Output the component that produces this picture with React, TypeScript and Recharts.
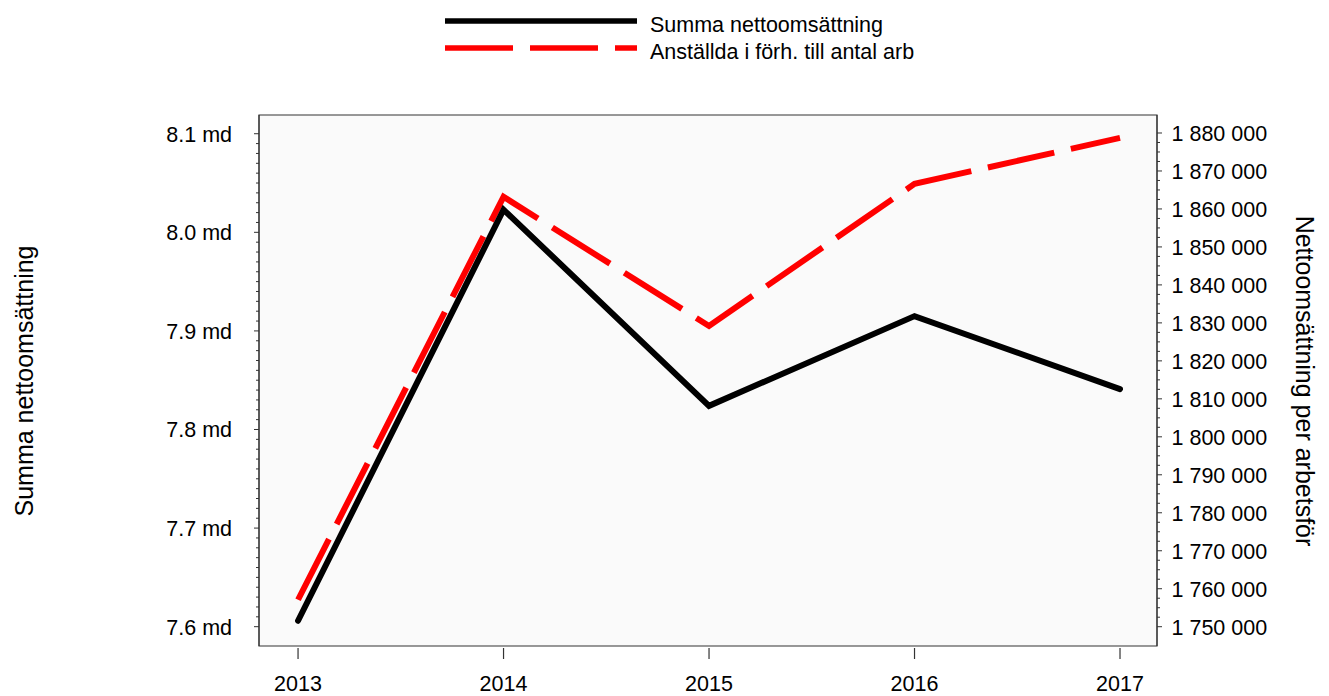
import { LineChart, Line, XAxis, YAxis, ReferenceArea } from 'recharts'

// Summa nettoomsättning (md) vs nettoomsättning per arbetsför, 2013–2017
const YEARS = [2013, 2014, 2015, 2016, 2017]
const NET_SALES_MD = [7.606, 8.023, 7.824, 7.915, 7.841]
const SALES_PER_EMPLOYEE = [1757100, 1863200, 1829200, 1866600, 1878700]

const LEFT_MAJOR = [7.6, 7.7, 7.8, 7.9, 8.0, 8.1]
const RIGHT_MAJOR = [
  1750000, 1760000, 1770000, 1780000, 1790000, 1800000, 1810000,
  1820000, 1830000, 1840000, 1850000, 1860000, 1870000, 1880000,
]
const SERIES_NAMES = ['Summa nettoomsättning', 'Anställda i förh. till antal arb']
const LEFT_TITLE = 'Summa nettoomsättning'
const RIGHT_TITLE = 'Nettoomsättning per arbetsför'

const W = 1329
const H = 696
const FONT = '"Liberation Sans", Arial, sans-serif'
const AXIS = '#333'
const X_DOMAIN = [2012.81, 2017.18]
const LEFT_DOMAIN = [7.5804, 8.119]
const RIGHT_DOMAIN = [1744921, 1884737]

// minor ticks between majors (0.01 md left, 2 500 right)
const minors = (majors: number[], parts: number, dec: number) => {
  const out: number[] = []
  for (let i = 0; i < majors.length - 1; i++) {
    const step = (majors[i + 1] - majors[i]) / parts
    for (let j = 0; j < parts; j++) out.push(Number((majors[i] + j * step).toFixed(dec)))
  }
  out.push(majors[majors.length - 1])
  return out
}
const LEFT_TICKS = minors(LEFT_MAJOR, 10, 2)
const RIGHT_TICKS = minors(RIGHT_MAJOR, 4, 0)

const rows = YEARS.map((year, i) => ({
  year,
  sales: NET_SALES_MD[i],
  perEmp: SALES_PER_EMPLOYEE[i],
}))

const spaced = (v: number) => String(Math.round(v)).replace(/\B(?=(\d{3})+(?!\d))/g, ' ')

function LeftTick({ x, y, payload }: any) {
  const major = LEFT_MAJOR.includes(payload.value)
  return (
    <g>
      <line x1={x - (major ? 5 : 3)} x2={x} y1={y} y2={y} stroke={AXIS} strokeWidth={1} />
      {major && (
        <text x={x - 27} y={y + 8} textAnchor="end" fontSize={21.5} fontFamily={FONT} fill="#000">
          {payload.value.toFixed(1)} md
        </text>
      )}
    </g>
  )
}

function RightTick({ x, y, payload }: any) {
  const major = RIGHT_MAJOR.includes(payload.value)
  return (
    <g>
      <line x1={x} x2={x + (major ? 5 : 3)} y1={y} y2={y} stroke={AXIS} strokeWidth={1} />
      {major && (
        <text x={x + 14.5} y={y + 8} textAnchor="start" fontSize={21.5} fontFamily={FONT} fill="#000">
          {spaced(payload.value)}
        </text>
      )}
    </g>
  )
}

function XTick({ x, y, payload }: any) {
  return (
    <g>
      <line x1={x} x2={x} y1={y + 2} y2={y + 13} stroke={AXIS} strokeWidth={1.2} />
      <text x={x} y={y + 44.5} textAnchor="middle" fontSize={21.5} fontFamily={FONT} fill="#000">
        {payload.value}
      </text>
    </g>
  )
}

export default function App() {
  return (
    <div style={{ position: 'relative', width: W, height: H, fontFamily: FONT }}>
      <style>{'body{margin:0}'}</style>
      <LineChart width={W} height={H} data={rows} margin={{ top: 115, right: 0, bottom: 0, left: 0 }}>
        <XAxis
          dataKey="year" type="number" domain={X_DOMAIN} ticks={YEARS} interval={0}
          allowDataOverflow axisLine={false} tickLine={false} tickSize={0} tickMargin={0}
          height={50} tick={(p: any) => <XTick {...p} />}
        />
        <YAxis
          yAxisId="left" orientation="left" width={259} domain={LEFT_DOMAIN} ticks={LEFT_TICKS}
          interval={0} allowDataOverflow tickLine={false} tickSize={0} tickMargin={0}
          axisLine={{ stroke: AXIS }} tick={(p: any) => <LeftTick {...p} />}
        />
        <YAxis
          yAxisId="right" orientation="right" width={172} domain={RIGHT_DOMAIN} ticks={RIGHT_TICKS}
          interval={0} allowDataOverflow tickLine={false} tickSize={0} tickMargin={0}
          axisLine={{ stroke: AXIS }} tick={(p: any) => <RightTick {...p} />}
        />
        <ReferenceArea
          yAxisId="left" x1={X_DOMAIN[0]} x2={X_DOMAIN[1]} y1={LEFT_DOMAIN[0]} y2={LEFT_DOMAIN[1]}
          ifOverflow="visible" fill="#fafafa" fillOpacity={1} stroke={AXIS} strokeWidth={1.2}
        />
        <Line
          yAxisId="right" dataKey="perEmp" name={SERIES_NAMES[1]} stroke="#ff0000" strokeWidth={6}
          strokeDasharray="68 17" dot={false} activeDot={false} isAnimationActive={false}
        />
        <Line
          yAxisId="left" dataKey="sales" name={SERIES_NAMES[0]} stroke="#000" strokeWidth={6}
          strokeLinecap="round" dot={false} activeDot={false} isAnimationActive={false}
        />
      </LineChart>
      <svg width={W} height={H} style={{ position: 'absolute', left: 0, top: 0, pointerEvents: 'none' }}>
        <line x1={445} x2={637} y1={21} y2={21} stroke="#000" strokeWidth={5.7} />
        <text x={650} y={31.5} fontSize={21.5} fontFamily={FONT} fill="#000">{SERIES_NAMES[0]}</text>
        <line x1={445} x2={637} y1={48} y2={48} stroke="#ff0000" strokeWidth={5.7} strokeDasharray="68 17" />
        <text x={650} y={58.5} fontSize={21.5} fontFamily={FONT} fill="#000">{SERIES_NAMES[1]}</text>
        <text x={32.5} y={381} transform="rotate(-90, 32.5, 381)" textAnchor="middle" fontSize={25} fontFamily={FONT} fill="#000">
          {LEFT_TITLE}
        </text>
        <text x={1295.5} y={381} transform="rotate(90, 1295.5, 381)" textAnchor="middle" fontSize={25} fontFamily={FONT} fill="#000">
          {RIGHT_TITLE}
        </text>
      </svg>
    </div>
  )
}
